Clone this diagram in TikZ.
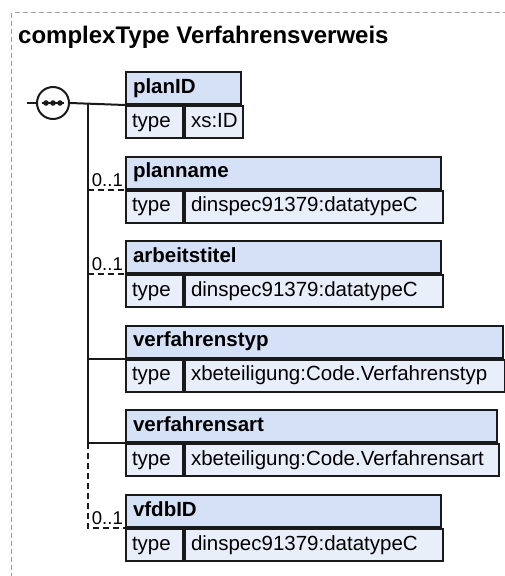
\documentclass[tikz,border=0pt]{standalone}
\usepackage{fontspec}
\setmainfont{Liberation Sans}
\usepackage{tikz}
\usetikzlibrary{positioning,calc}
\definecolor{kopfC}{HTML}{D5E1F6}
\definecolor{zeileC}{HTML}{E8EFFB}
\definecolor{randC}{HTML}{1A1A1A}
\definecolor{grisC}{HTML}{A0A0A0}
\tikzset{
  kopf/.style={rectangle, draw=randC, line width=2pt, fill=kopfC, anchor=north west,
               minimum height=32pt, inner xsep=7pt, inner ysep=0pt, text height=15pt, text depth=5pt,
               text width=#1, align=left, font=\fontsize{20.5}{24}\selectfont\bfseries},
  zelle/.style={rectangle, draw=randC, line width=2pt, fill=zeileC, anchor=north west,
                minimum height=32pt, inner xsep=6pt, inner ysep=0pt, text height=15pt, text depth=5pt,
                text width=#1, align=left, font=\fontsize{20.5}{24}\selectfont},
  verb/.style={line width=2pt, draw=randC},
  opt/.style={verb, dash pattern=on 6pt off 4pt},
  mult/.style={anchor=south east, inner xsep=2pt, inner ysep=3pt, font=\fontsize{18.5}{20}\selectfont},
}
\begin{document}
\begin{tikzpicture}[x=1pt, y=-1pt]
    \useasboundingbox (0,0) rectangle (505,576);
    \clip (0,0) rectangle (505,576);
    \draw[grisC, line width=1pt, dash pattern=on 5pt off 3pt] (11.5,12.5) rectangle (560,640);
    \node[anchor=base west, inner sep=0pt, font=\fontsize{24}{28}\selectfont\bfseries] (titel)
      at (18,43.5) {complexType Verfahrensverweis};

    % elements
    \node[kopf=101pt] (k1) at (125,71) {planID};
    \node[zelle=45pt] (t1) at (k1.south west) {type};
    \node[zelle=46pt] (w1) at (t1.north east) {xs:ID};

    \node[kopf=301pt] (k2) at (125,155.6) {planname};
    \node[zelle=45pt] (t2) at (k2.south west) {type};
    \node[zelle=246pt] (w2) at (t2.north east) {dinspec91379:datatypeC};

    \node[kopf=301pt] (k3) at (125,240.2) {arbeitstitel};
    \node[zelle=45pt] (t3) at (k3.south west) {type};
    \node[zelle=246pt] (w3) at (t3.north east) {dinspec91379:datatypeC};

    \node[kopf=363pt] (k4) at (125,324.8) {verfahrenstyp};
    \node[zelle=45pt] (t4) at (k4.south west) {type};
    \node[zelle=308pt] (w4) at (t4.north east) {xbeteiligung:Code.Verfahrenstyp};

    \node[kopf=357pt] (k5) at (125,409.4) {verfahrensart};
    \node[zelle=45pt] (t5) at (k5.south west) {type};
    \node[zelle=302pt] (w5) at (t5.north east) {xbeteiligung:Code.Verfahrensart};

    \node[kopf=301pt] (k6) at (125,494) {vfdbID};
    \node[zelle=45pt] (t6) at (k6.south west) {type};
    \node[zelle=246pt] (w6) at (t6.north east) {dinspec91379:datatypeC};

    % sequence
    \node[circle, draw=randC, line width=2pt, fill=white, minimum size=32pt, inner sep=0pt] (seq) at (53,103) {};
    \draw[verb] ([xshift=-11pt]seq.center) -- ([xshift=11pt]seq.center);
    \foreach \dx in {-7,0,7} \fill[randC] ([xshift=\dx pt]seq.center) circle (2.8pt);
    \coordinate (ein) at (27,103);
    \coordinate (s0) at (88,103);
    \draw[verb] (ein) -- (seq.west);
    \draw[verb] (seq.east) -- (k1.south west);
    \draw[verb] (s0) -- (s0 |- k5.south west);
    \draw[opt] (s0 |- k5.south west) -- (s0 |- k6.south west) -- (k6.south west);
    \draw[opt] (s0 |- k2.south west) -- (k2.south west);
    \draw[opt] (s0 |- k3.south west) -- (k3.south west);
    \draw[verb] (s0 |- k4.south west) -- (k4.south west);
    \draw[verb] (s0 |- k5.south west) -- (k5.south west);
    \node[mult] (m2) at (k2.south west) {0..1};
    \node[mult] (m3) at (k3.south west) {0..1};
    \node[mult] (m6) at (k6.south west) {0..1};
  \end{tikzpicture}
\end{document}
